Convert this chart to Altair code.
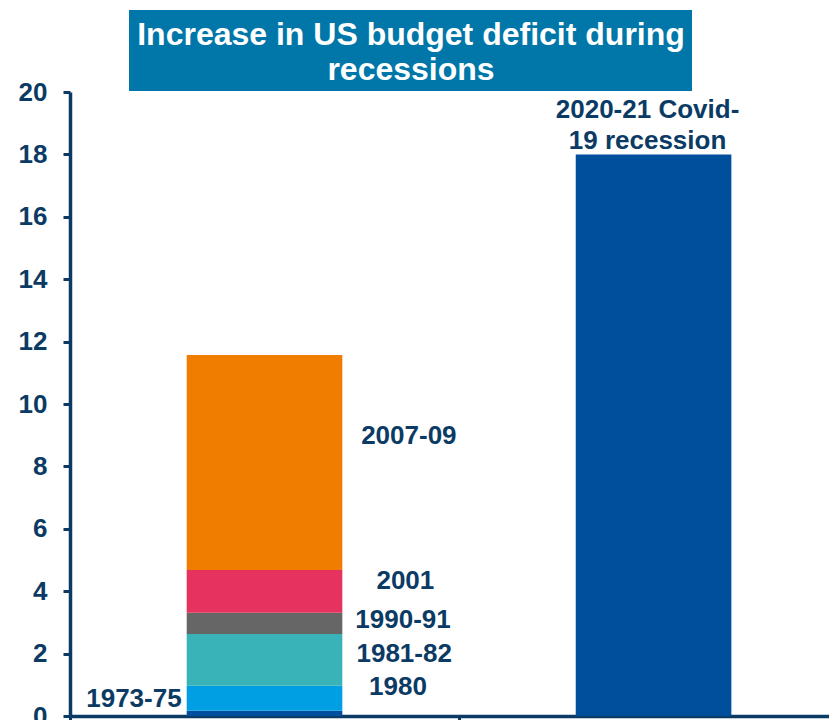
import altair as alt
import pandas as pd

# ---- data ----
recessions = ["1973-75", "1980", "1981-82", "1990-91", "2001", "2007-09"]
increase = [0.17, 0.80, 1.66, 0.68, 1.37, 6.89]          # % of GDP, stacked
seg_colors = ["#004f9f", "#009fe3", "#39b3b7", "#666666", "#e5325f", "#f07d00"]
label_x = [0.287, 0.843, 0.859, 0.856, 0.862, 0.871]     # annotation anchors (data units)
label_y = [0.54, 0.94, 1.99, 3.07, 4.34, 8.99]

covid_name = "2020-21 Covid-19 recession"
covid_label = "2020-21 Covid-\n19 recession"
covid_increase = 18.0
covid_color = "#004f9d"
covid_label_y = 19.16

title_lines = ["Increase in US budget deficit during", "recessions"]
y_ticks = list(range(0, 21, 2))
group_pos = [0.5, 1.5]
bar_half = 0.2

# ---- styling ----
FONT = "Liberation Sans"
NAVY = "#0b3b64"
TITLE_BG = "#0077a8"

# ---- build tables ----
rows = []
lo = 0.0
for name, v in zip(recessions, increase):
    rows.append({"name": name, "lo": lo, "hi": lo + v,
                 "x0": group_pos[0] - bar_half, "x1": group_pos[0] + bar_half})
    lo += v
rows.append({"name": covid_name, "lo": 0.0, "hi": covid_increase,
             "x0": group_pos[1] - bar_half, "x1": group_pos[1] + bar_half})
bar_df = pd.DataFrame(rows)

lab_df = pd.DataFrame({"text": recessions, "lx": label_x, "ly": label_y})
covid_df = pd.DataFrame({"text": [covid_label], "lx": [group_pos[1]], "ly": [covid_label_y]})
one = pd.DataFrame({"k": [0]})

xscale = alt.Scale(domain=[0, 1.951], nice=False, zero=False)
yscale = alt.Scale(domain=[0, 20], nice=False)
xaxis = alt.Axis(values=[0, 1], labels=False, title=None, grid=False, tickSize=7,
                 tickWidth=3, tickColor=NAVY, domainColor=NAVY, domainWidth=3.5)
yaxis = alt.Axis(values=y_ticks, title=None, grid=False, tickSize=7, tickWidth=3,
                 tickColor=NAVY, domainColor=NAVY, domainWidth=3.5,
                 labelFont=FONT, labelFontSize=26, labelFontWeight="bold",
                 labelColor=NAVY, labelPadding=16)

bars = alt.Chart(bar_df).mark_bar(strokeWidth=0).encode(
    x=alt.X("x0:Q", scale=xscale, axis=xaxis),
    x2="x1:Q",
    y=alt.Y("lo:Q", scale=yscale, axis=yaxis),
    y2="hi:Q",
    color=alt.Color("name:N",
                    scale=alt.Scale(domain=recessions + [covid_name],
                                    range=seg_colors + [covid_color]),
                    legend=None),
)

labels_center = alt.Chart(lab_df).transform_filter(
    alt.datum.text != recessions[0]
).mark_text(font=FONT, fontSize=26, fontWeight="bold", color=NAVY,
            align="center", baseline="middle").encode(
    x=alt.X("lx:Q", scale=xscale, axis=xaxis),
    y=alt.Y("ly:Q", scale=yscale, axis=yaxis),
    text="text:N",
)

labels_left = alt.Chart(lab_df).transform_filter(
    alt.datum.text == recessions[0]
).mark_text(font=FONT, fontSize=26, fontWeight="bold", color=NAVY,
            align="right", baseline="middle").encode(
    x=alt.X("lx:Q", scale=xscale, axis=xaxis),
    y=alt.Y("ly:Q", scale=yscale, axis=yaxis),
    text="text:N",
)

covid_text = alt.Chart(covid_df).mark_text(
    font=FONT, fontSize=26, fontWeight="bold", color=NAVY,
    align="center", baseline="alphabetic", lineBreak="\n", lineHeight=31, dx=-6
).encode(
    x=alt.X("lx:Q", scale=xscale, axis=xaxis),
    y=alt.Y("ly:Q", scale=yscale, axis=yaxis),
    text="text:N",
)

title_box = alt.Chart(one).mark_rect(color=TITLE_BG).encode(
    x=alt.value(59), x2=alt.value(622), y=alt.value(-82), y2=alt.value(-1)
)
title_text = alt.Chart(one).mark_text(
    text=title_lines, font=FONT, fontSize=32, fontWeight="bold", color="white",
    align="center", baseline="alphabetic", lineHeight=35
).encode(x=alt.value(341), y=alt.value(-47))

chart = alt.layer(bars, labels_center, labels_left, covid_text, title_box, title_text).properties(
    width=759, height=624,
    autosize=alt.AutoSizeParams(type="none"),
    padding={"left": 62, "top": 84, "right": 0, "bottom": 4},
    background="white",
).configure_view(stroke=None)

chart.save("out.html", embed_options={"renderer": "svg", "actions": False})
